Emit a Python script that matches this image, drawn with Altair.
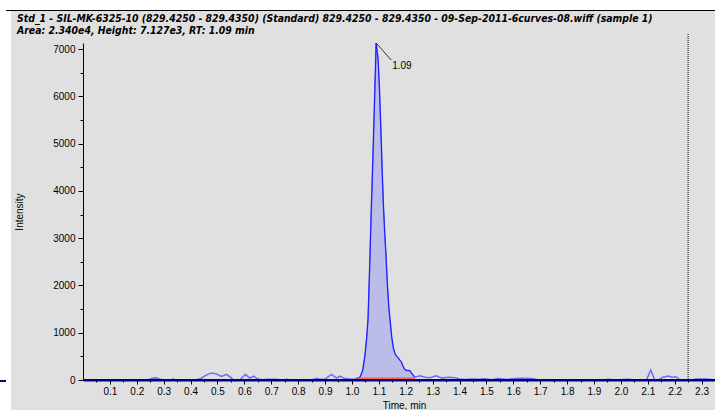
import altair as alt
import pandas as pd

# Extracted ion chromatogram: retention time (min) and intensity (counts)
time_min = [
    0.00, 0.24, 0.255, 0.27, 0.285, 0.30, 0.325, 0.335, 0.345, 0.42,
    0.44, 0.46, 0.478, 0.495, 0.515, 0.534, 0.548, 0.56, 0.585, 0.604,
    0.62, 0.635, 0.65, 0.665, 0.69, 0.72, 0.74, 0.757, 0.775, 0.85,
    0.868, 0.885, 0.90, 0.924, 0.943, 0.955, 0.974, 0.992, 1.005,
    1.02, 1.03, 1.04, 1.048, 1.055, 1.06, 1.066, 1.072, 1.078, 1.083,
    1.087, 1.09, 1.097, 1.102, 1.107, 1.112, 1.117, 1.122, 1.127, 1.132,
    1.137, 1.142, 1.148, 1.154, 1.16, 1.166, 1.172, 1.178, 1.184, 1.19,
    1.197, 1.205, 1.215, 1.225, 1.234,
    1.253, 1.271, 1.29, 1.314, 1.335, 1.358, 1.383, 1.401, 1.42, 1.445,
    1.47, 1.494, 1.52, 1.544, 1.575, 1.606, 1.635, 1.668, 1.69, 1.75,
    1.80, 1.85, 1.93, 1.953, 1.975, 2.027, 2.05, 2.095, 2.111, 2.126,
    2.14, 2.156, 2.175, 2.19, 2.205, 2.22, 2.26, 2.28, 2.32, 2.35,
]
intensity = [
    0, 0, 30, 45, 20, 0, 0, 20, 0, 0,
    40, 110, 150, 130, 75, 120, 60, 0, 10, 120,
    40, 80, 20, 5, 15, 15, 0, 15, 0, 0,
    30, 15, 20, 120, 40, 80, 30, 20, 15,
    35, 60, 200, 500, 900, 1300, 2400, 3600, 4700, 5700,
    6500, 7127, 6800, 6200, 5400, 4500, 3700, 3100, 2600, 2000,
    1550, 1250, 900, 680, 560, 500, 470, 420, 380, 290,
    220, 200, 200, 120, 60,
    90, 60, 50, 90, 40, 60, 50, 20, 10, 20,
    15, 25, 5, 30, 10, 30, 35, 30, 5, 5,
    5, 0, 0, 15, 0, 15, 0, 0, 210, 0,
    0, 60, 85, 60, 70, 0, 0, 20, 20, 0,
]

# Integration window of the peak and its baseline
peak_start, peak_end = 1.02, 1.234
baseline_t = [1.023, 1.234]
baseline_i = [30, 30]

# Peak results
rt = 1.09
peak_height = 7127
marker_t = 2.25

# Time-axis ticks every 0.05 min, labelled every 0.1 min
x_ticks = [0.05, 0.1, 0.15, 0.2, 0.25, 0.3, 0.35, 0.4, 0.45, 0.5, 0.55, 0.6,
           0.65, 0.7, 0.75, 0.8, 0.85, 0.9, 0.95, 1.0, 1.05, 1.1, 1.15, 1.2,
           1.25, 1.3, 1.35, 1.4, 1.45, 1.5, 1.55, 1.6, 1.65, 1.7, 1.75, 1.8,
           1.85, 1.9, 1.95, 2.0, 2.05, 2.1, 2.15, 2.2, 2.25, 2.3, 2.35]
# Intensity-axis ticks every 500, labelled every 1000
y_ticks = [0, 500, 1000, 1500, 2000, 2500, 3000, 3500, 4000, 4500,
           5000, 5500, 6000, 6500, 7000]

title_lines = [
    "Std_1 - SIL-MK-6325-10 (829.4250 - 829.4350) (Standard) 829.4250 - 829.4350 - "
    "09-Sep-2011-6curves-08.wiff (sample 1)",
    "Area: 2.340e4, Height: 7.127e3, RT: 1.09 min",
]

W, H = 632, 337
PAD_L, PAD_T = 83, 43
BG = "#e0e0e0"
NAVY = "#000080"
LABEL_FONT = "Liberation Sans"

trace = pd.DataFrame({"t": time_min, "i": intensity})
peak = trace[(trace.t >= peak_start) & (trace.t <= peak_end)]
base = pd.DataFrame({"t": baseline_t, "i": baseline_i})

x_axis = alt.Axis(
    values=x_ticks,
    format=".1f",
    labelExpr="round(datum.value * 20) % 2 == 0 ? datum.label : ''",
    tickSize={"condition": {"test": "round(datum.value * 20) % 2 == 1", "value": 2}, "value": 4},
    labelPadding=2,
    labelOverlap=False,
    domainColor=NAVY,
    domainWidth=2,
    tickColor="black",
    grid=False,
    titleX=321,
    titleY=20,
    titleBaseline="top",
)
y_axis = alt.Axis(
    values=y_ticks,
    format="d",
    labelExpr="datum.value % 1000 == 0 ? datum.label : ''",
    tickSize={"condition": {"test": "datum.value % 1000 != 0", "value": 3}, "value": 5},
    labelPadding=3,
    labelOverlap=False,
    domainColor="black",
    tickColor="black",
    grid=False,
    titlePadding=28,
)

x_scale = alt.Scale(domain=[0, 2.35], nice=False, zero=False)
y_scale = alt.Scale(domain=[0, peak_height], nice=False)
x_enc = alt.X("t:Q", scale=x_scale, axis=x_axis, title="Time, min")
y_enc = alt.Y("i:Q", scale=y_scale, axis=y_axis, title="Intensity")

# Filled integrated peak
fill = alt.Chart(peak).mark_area(color="#bcbce8", opacity=1).encode(x=x_enc, y=y_enc)
# Full chromatogram trace
line = alt.Chart(trace).mark_line(color="#6a6aff", strokeWidth=1.5).encode(x=x_enc, y=y_enc)
# Peak outline
outline = alt.Chart(peak).mark_line(color="#1a1aff", strokeWidth=1).encode(x=x_enc, y=y_enc)
# Integration baseline
baseline = alt.Chart(base).mark_line(color="#ff5a5a", strokeWidth=2).encode(x=x_enc, y=y_enc)
# Zero line drawn over the trace
zero_line = alt.Chart(pd.DataFrame({"i": [0]})).mark_rule(color=NAVY, strokeWidth=2).encode(
    y=y_enc, x=alt.value(0), x2=alt.value(W)
)

# Vertical dotted marker
marker = alt.Chart(pd.DataFrame({"t": [marker_t]})).mark_rule(
    color="black", strokeDash=[1, 1], strokeWidth=1
).encode(x=x_enc, y=alt.value(-9), y2=alt.value(H))

# Apex annotation: leader line and RT label
apex = pd.DataFrame({
    "t": [rt], "i": [peak_height],
    "t2": [rt + 0.056], "i2": [peak_height - 360],
    "label": [f"{rt:.2f}"],
})
leader = alt.Chart(apex).mark_rule(color="#333333", strokeWidth=1).encode(
    x=x_enc, y=y_enc, x2="t2:Q", y2="i2:Q"
)
rt_label = alt.Chart(apex).mark_text(
    align="left", baseline="middle", dx=16, dy=23,
    font=LABEL_FONT, fontSize=10, color="black"
).encode(x=x_enc, y=y_enc, text="label:N")

# Window frame: white margins on the left and top, rule under the white top margin
one = pd.DataFrame({"k": [0]})
left_strip = alt.Chart(one).mark_rect(color="white").encode(
    x=alt.value(-PAD_L), x2=alt.value(11 - PAD_L),
    y=alt.value(-PAD_T), y2=alt.value(410 - PAD_T)
)
top_strip = alt.Chart(one).mark_rect(color="white").encode(
    x=alt.value(-PAD_L), x2=alt.value(W),
    y=alt.value(-PAD_T), y2=alt.value(10 - PAD_T)
)
top_rule = alt.Chart(one).mark_rule(color="black", strokeWidth=1).encode(
    x=alt.value(6 - PAD_L), x2=alt.value(W), y=alt.value(10.5 - PAD_T)
)
stub = alt.Chart(one).mark_rule(color=NAVY, strokeWidth=2).encode(
    x=alt.value(-PAD_L), x2=alt.value(6 - PAD_L), y=alt.value(H + 1)
)

chart = alt.layer(
    fill, line, outline, baseline, zero_line, marker, leader, rt_label,
    left_strip, top_strip, top_rule, stub
).properties(
    width=W,
    height=H,
    padding={"left": PAD_L, "top": PAD_T, "right": 0, "bottom": 410 - PAD_T - H},
    autosize=alt.AutoSizeParams(type="none"),
    background=BG,
    title=alt.TitleParams(
        text=title_lines,
        anchor="start",
        frame="group",
        orient="top",
        font="DejaVu Sans Condensed",
        fontSize=10.4,
        fontStyle="italic",
        fontWeight="bold",
        color="black",
        lineHeight=12,
        baseline="bottom",
        dx=17 - PAD_L,
        dy=46,
        offset=0,
    ),
).configure_view(
    stroke=None
).configure_axis(
    labelFont=LABEL_FONT,
    labelFontSize=10,
    labelColor="black",
    labelOverlap=False,
    titleFont=LABEL_FONT,
    titleFontSize=10,
    titleFontWeight="normal",
    titleColor="black",
)

chart.save("out.html", embed_options={"renderer": "svg", "actions": False})
